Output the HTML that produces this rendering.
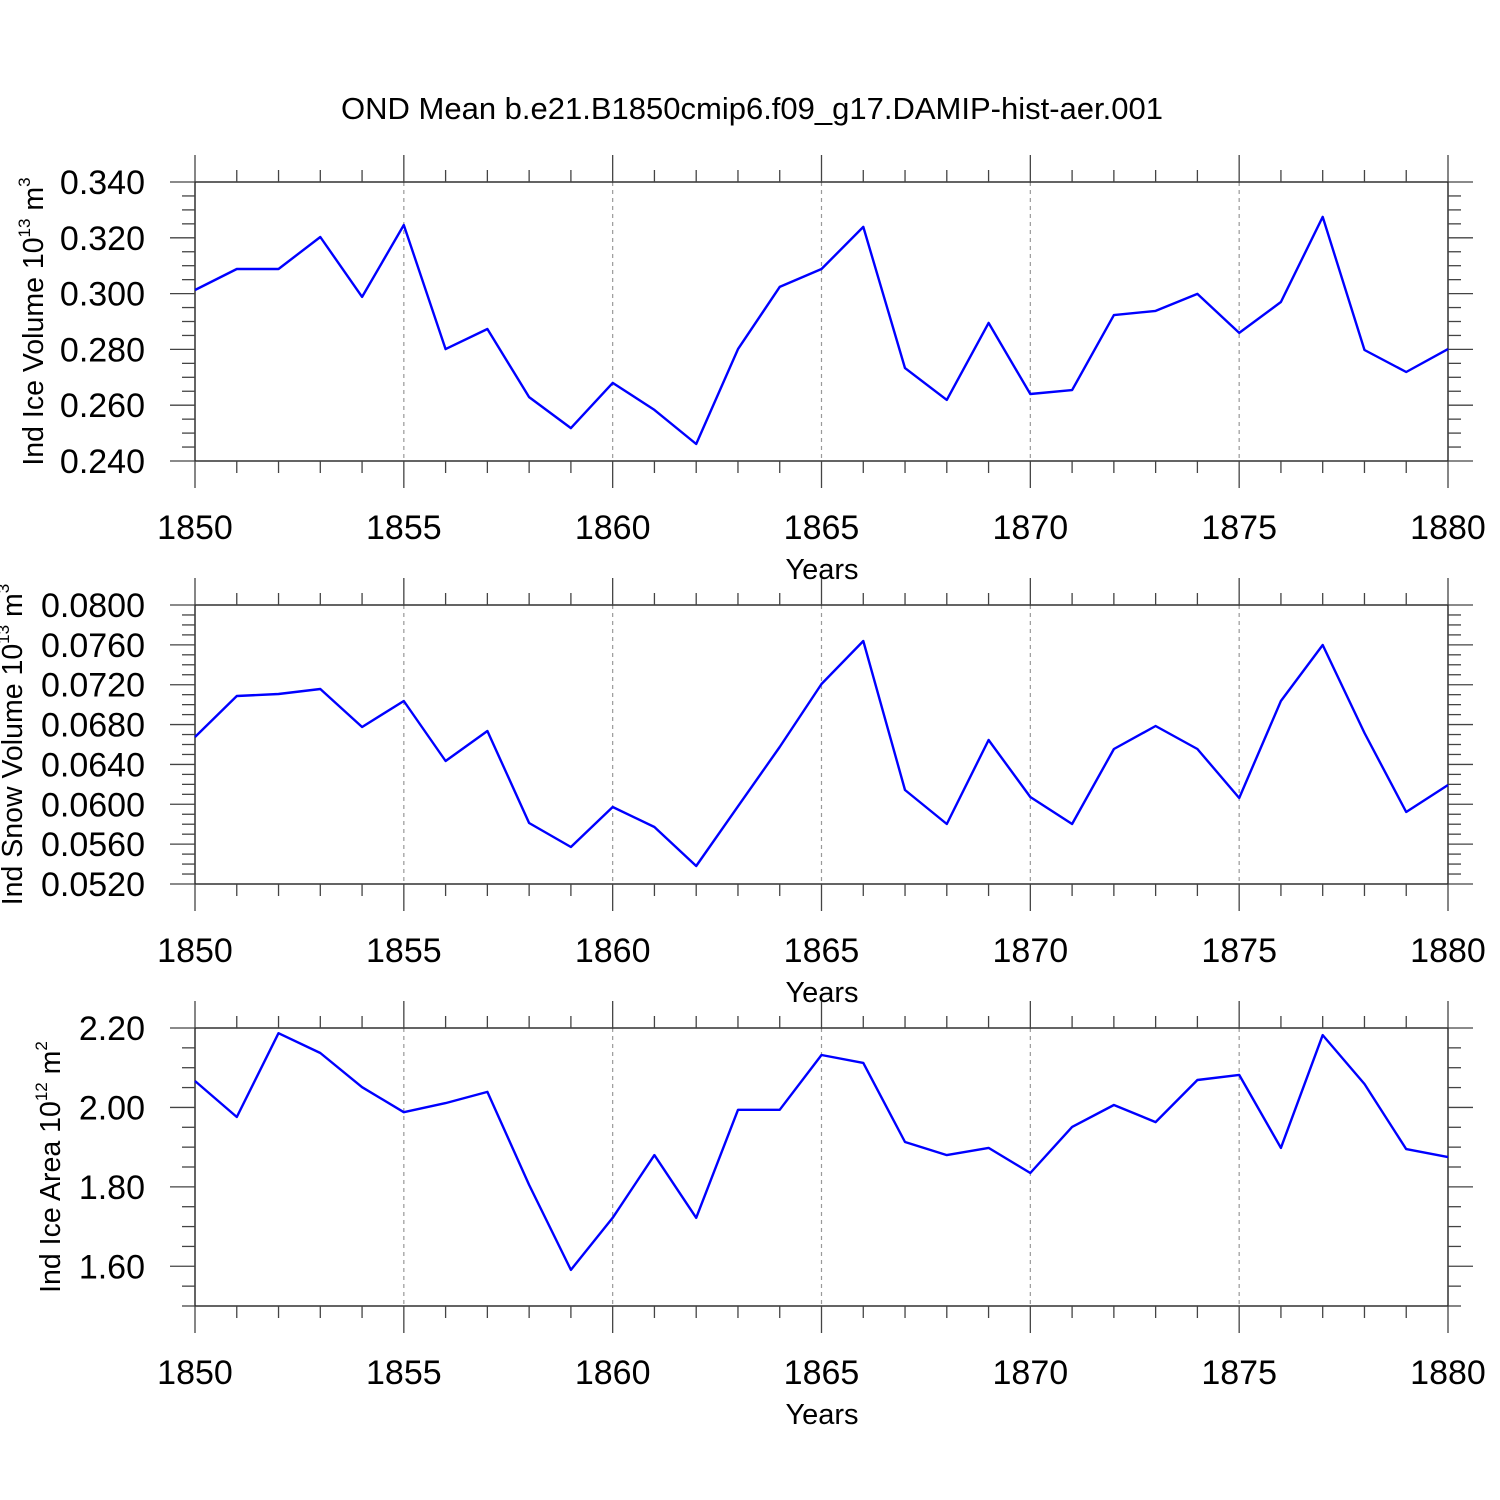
<!DOCTYPE html>
<html><head><meta charset="utf-8"><style>
html,body{margin:0;padding:0;background:#fff}
svg{display:block;font-family:"Liberation Sans",Arial,sans-serif}
</style></head><body>
<svg id="c" width="1500" height="1500" viewBox="0 0 1500 1500">
<text x="752" y="119" font-size="31" text-anchor="middle">OND Mean b.e21.B1850cmip6.f09_g17.DAMIP-hist-aer.001</text>
</svg>
<script>
const years = [1850,1851,1852,1853,1854,1855,1856,1857,1858,1859,1860,1861,1862,1863,1864,1865,1866,1867,1868,1869,1870,1871,1872,1873,1874,1875,1876,1877,1878,1879,1880];
const iceVolume = [0.3013,0.3088,0.3088,0.3203,0.2988,0.3246,0.2801,0.2873,0.2629,0.2518,0.2680,0.2583,0.2461,0.2801,0.3024,0.3088,0.3239,0.2733,0.2619,0.2895,0.2640,0.2654,0.2923,0.2938,0.2999,0.2859,0.2970,0.3275,0.2798,0.2719,0.2801];
const snowVolume = [0.06675,0.07087,0.07107,0.07157,0.06776,0.07037,0.06434,0.06735,0.05812,0.05571,0.05973,0.05772,0.05381,0.0598,0.06575,0.07207,0.07639,0.06143,0.05802,0.06645,0.06073,0.05802,0.06555,0.06786,0.06555,0.06063,0.07037,0.07599,0.06715,0.05923,0.06194];
const iceArea = [2.0665,1.976,2.187,2.137,2.051,1.988,2.011,2.039,1.805,1.591,1.722,1.880,1.722,1.994,1.994,2.132,2.112,1.913,1.880,1.898,1.835,1.951,2.006,1.963,2.069,2.082,1.898,2.182,2.059,1.895,1.875];
const xTicks = [1850,1855,1860,1865,1870,1875,1880];
const ticks1 = [0.240,0.260,0.280,0.300,0.320,0.340];
const ticks2 = [0.0520,0.0560,0.0600,0.0640,0.0680,0.0720,0.0760,0.0800];
const ticks3 = [1.60,1.80,2.00,2.20];

const NS='http://www.w3.org/2000/svg';
const svg=document.getElementById('c');
function el(tag,attrs,parent){const e=document.createElementNS(NS,tag);for(const k in attrs)e.setAttribute(k,attrs[k]);(parent||svg).appendChild(e);return e;}
const X0=195,X1=1448,XMIN=1850,XMAX=1880;
const xs=v=>X0+(v-XMIN)/(XMAX-XMIN)*(X1-X0);

function panel(name,top,bottom,ymin,ymax,minorStep,ticks,dec,data,titleParts,titleX){
  const g=el('g',{});
  
  
  const ys=v=>bottom-(v-ymin)/(ymax-ymin)*(bottom-top);
  xTicks.slice(1,-1).forEach(t=>{
    const l=el('line',{x1:xs(t),x2:xs(t),y1:top,y2:bottom,stroke:'#999','stroke-width':1.2,'stroke-dasharray':'4,4'},g);
    
    
  });
  const box=el('rect',{x:X0,y:top,width:X1-X0,height:bottom-top,fill:'none',stroke:'#222','stroke-width':1.4},g);
  
  
  for(let yr=XMIN;yr<=XMAX;yr++){
    const major=yr%5===0, L=major?27:12, x=xs(yr);
    el('line',{x1:x,x2:x,y1:bottom,y2:bottom+L,stroke:'#444','stroke-width':1.3},g);
    el('line',{x1:x,x2:x,y1:top,y2:top-L,stroke:'#444','stroke-width':1.3},g);
  }
  xTicks.forEach(t=>{
    const tx=el('text',{x:xs(t),y:bottom+78,'font-size':34,'text-anchor':'middle'},g);
    tx.textContent=t;
    
    
  });
  const xt=el('text',{x:822,y:bottom+118,'font-size':29,'text-anchor':'middle'},g);
  xt.textContent='Years';
  
  
  const n=Math.round((ymax-ymin)/minorStep);
  const majorStep=ticks[1]-ticks[0];
  for(let i=0;i<=n;i++){
    const v=ymin+i*minorStep, y=ys(v);
    const r=((v-ticks[0])/majorStep);
    const major=Math.abs(r-Math.round(r))<1e-6;
    const L=major?25:13;
    el('line',{x1:X0-L,x2:X0,y1:y,y2:y,stroke:'#444','stroke-width':1.3},g);
    el('line',{x1:X1,x2:X1+L,y1:y,y2:y,stroke:'#444','stroke-width':1.3},g);
  }
  ticks.forEach(t=>{
    const tx=el('text',{x:145,y:ys(t)+12,'font-size':34,'text-anchor':'end'},g);
    tx.textContent=t.toFixed(dec);
    
    
  });
  const cy=(top+bottom)/2;
  const yt=el('text',{x:0,y:0,'font-size':28.5,'text-anchor':'middle',transform:`translate(${titleX},${cy}) rotate(-90)`},g);
  
  
  titleParts.forEach(p=>{
    const s=el('tspan',p.sup?{'font-size':17,dy:-13}:(p.after?{dy:13}:{}),yt);
    s.textContent=p.t;
  });
  const pts=data.map((v,i)=>xs(years[i]).toFixed(1)+','+ys(v).toFixed(1)).join(' ');
  const pl=el('polyline',{points:pts,fill:'none',stroke:'#0000ff','stroke-width':2.4,'stroke-linejoin':'round'},g);
  
  
}
panel('ice-volume',182,461,0.240,0.340,0.005,ticks1,3,iceVolume,
 [{t:'Ind Ice Volume 10'},{t:'13',sup:1},{t:' m',after:1},{t:'3',sup:1}],43);
panel('snow-volume',605,884,0.0520,0.0800,0.001,ticks2,4,snowVolume,
 [{t:'Ind Snow Volume 10'},{t:'13',sup:1},{t:' m',after:1},{t:'3',sup:1}],22);
panel('ice-area',1028,1306,1.50,2.20,0.05,ticks3,2,iceArea,
 [{t:'Ind Ice Area 10'},{t:'12',sup:1},{t:' m',after:1},{t:'2',sup:1}],60);
</script>
</body></html>
